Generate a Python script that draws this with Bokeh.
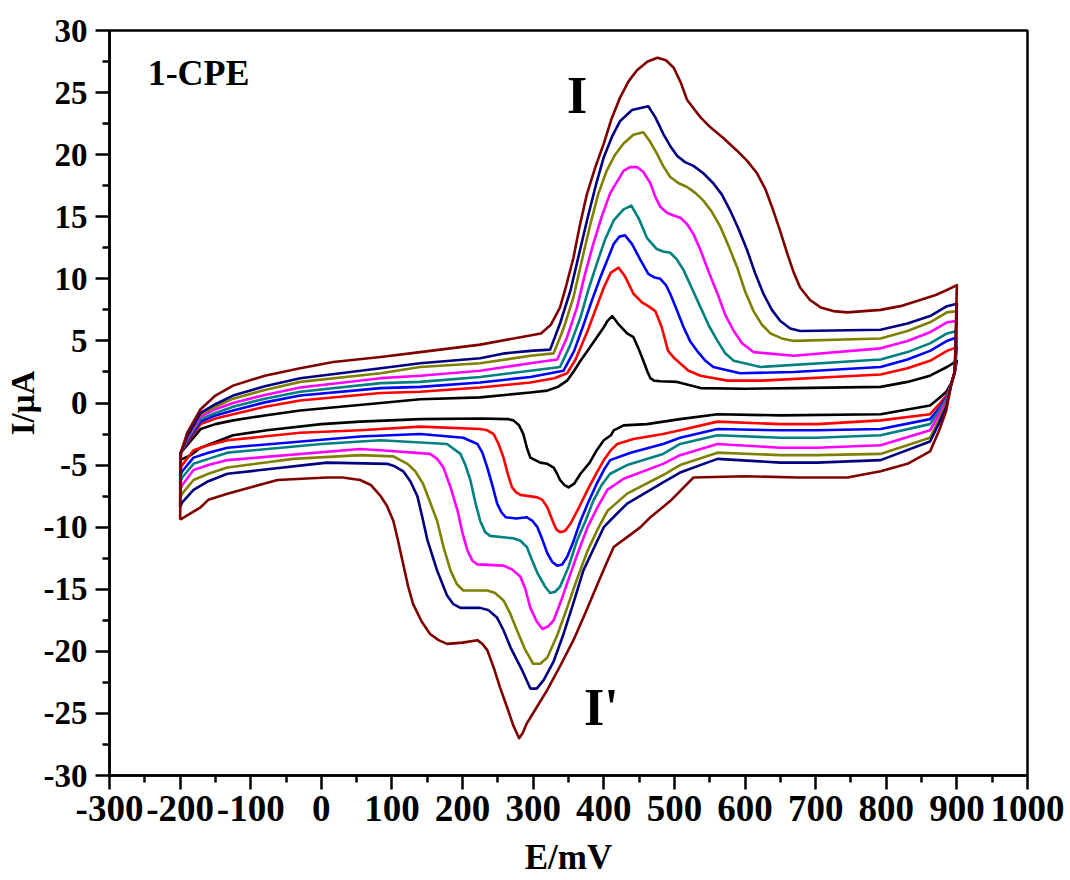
from bokeh.plotting import figure
from bokeh.models import Range1d, FixedTicker, Label
from bokeh.embed import file_html
from bokeh.resources import INLINE

# ---- data: E in mV, I in uA ----
# forward (anodic) branch from -200 to 900 mV, then reverse (cathodic) branch back to -200 mV
black_fwd_E = [-200, -199, -190, -171, -150, -125, -80, -30, 84, 140, 225, 296, 320, 335, 348, 358, 367, 377, 400, 405, 412, 420, 433, 442, 449, 456, 462, 466, 471, 480, 504, 537, 600, 669, 792, 830, 862, 886, 900]
black_fwd_I = [-4.6, -4.0, -3.4, -2.1, -1.7, -1.4, -1.0, -0.6, 0.0, 0.3, 0.45, 0.85, 1.0, 1.3, 1.8, 2.6, 3.4, 4.2, 6.1, 6.6, 7.0, 6.4, 5.6, 5.3, 4.4, 3.4, 2.5, 2.0, 1.8, 1.75, 1.7, 1.2, 1.15, 1.2, 1.3, 1.7, 2.2, 2.9, 3.4]
black_rev_E = [897, 892, 885, 875, 862, 792, 650, 561, 508, 461, 428, 414, 410, 400, 395, 390, 380, 367, 358, 350, 344, 338, 333, 329, 320, 310, 296, 291, 286, 280, 272, 265, 225, 140, 55, 0, -77, -125, -171, -185, -200]
black_rev_I = [2.5, 1.6, 0.9, 0.4, -0.2, -0.9, -1.0, -0.9, -1.3, -1.7, -1.8, -2.2, -2.6, -3.0, -3.4, -3.8, -4.8, -5.7, -6.5, -6.8, -6.6, -6.2, -5.6, -5.2, -4.9, -4.8, -4.4, -3.6, -2.5, -1.8, -1.4, -1.3, -1.25, -1.3, -1.5, -1.7, -2.2, -2.6, -3.6, -4.2, -4.6]

red_fwd_E = [-200, -199, -190, -171, -150, -125, -80, -30, 84, 140, 225, 296, 330, 348, 360, 377, 400, 410, 421, 430, 442, 454, 463, 473, 482, 491, 500, 508, 520, 537, 575, 622, 792, 830, 862, 886, 900]
red_fwd_I = [-5.4, -4.0, -3.2, -1.7, -1.25, -0.9, -0.3, 0.2, 0.8, 0.9, 1.25, 1.65, 2.0, 2.4, 3.5, 5.8, 9.3, 10.5, 10.9, 10.2, 8.8, 8.1, 7.8, 7.4, 6.1, 4.2, 3.6, 3.2, 2.6, 2.2, 1.8, 1.8, 2.3, 2.8, 3.4, 4.2, 4.5]
red_rev_E = [897, 892, 885, 875, 862, 792, 702, 650, 561, 508, 484, 442, 419, 410, 400, 390, 377, 365, 353, 345, 338, 333, 329, 320, 313, 306, 294, 282, 276, 270, 264, 258, 251, 244, 235, 225, 140, 55, -30, -133, -160, -181, -197, -200]
red_rev_I = [2.5, 1.5, 0.6, -0.1, -0.9, -1.4, -1.7, -1.7, -1.5, -2.2, -2.5, -2.9, -3.3, -3.8, -4.6, -5.6, -7.0, -8.4, -9.7, -10.3, -10.4, -10.2, -9.7, -8.4, -7.8, -7.6, -7.5, -7.4, -7.2, -6.8, -5.7, -4.4, -3.3, -2.5, -2.2, -2.1, -1.9, -2.2, -2.4, -3.0, -3.4, -3.8, -5.0, -5.4]

blue_fwd_E = [-200, -199, -190, -171, -150, -125, -80, -30, 84, 140, 225, 296, 343, 358, 372, 384, 395, 414, 422, 430, 440, 452, 463, 472, 480, 488, 494, 504, 513, 522, 532, 544, 555, 593, 669, 792, 830, 862, 886, 900]
blue_fwd_I = [-5.9, -4.0, -3.1, -1.5, -1.0, -0.6, 0.05, 0.6, 1.2, 1.3, 1.65, 2.1, 2.6, 4.2, 6.4, 8.4, 10.1, 12.8, 13.4, 13.5, 12.8, 11.5, 10.4, 10.1, 10.0, 9.5, 8.8, 7.4, 6.1, 5.0, 4.2, 3.4, 2.9, 2.4, 2.5, 2.9, 3.5, 4.2, 5.0, 5.3]
blue_rev_E = [897, 892, 885, 875, 862, 792, 702, 650, 561, 508, 484, 438, 409, 400, 390, 378, 367, 356, 348, 341, 334, 327, 320, 313, 306, 299, 291, 276, 261, 255, 249, 242, 235, 228, 221, 201, 140, 55, -133, -160, -181, -197, -200]
blue_rev_I = [2.5, 1.5, 0.4, -0.4, -1.3, -2.1, -2.2, -2.2, -2.1, -2.8, -3.3, -4.0, -4.6, -5.4, -6.5, -8.0, -9.5, -11.3, -12.4, -13.0, -13.1, -12.8, -12.1, -11.0, -10.0, -9.5, -9.2, -9.3, -9.2, -8.8, -8.1, -6.6, -5.2, -4.0, -3.3, -2.8, -2.5, -2.7, -3.6, -4.0, -4.4, -5.5, -5.9]

teal_fwd_E = [-200, -199, -190, -171, -150, -125, -80, -30, 84, 140, 225, 296, 338, 352, 367, 378, 390, 402, 414, 428, 439, 450, 461, 475, 484, 494, 503, 513, 525, 537, 549, 561, 572, 584, 622, 792, 830, 862, 886, 900]
teal_fwd_I = [-6.4, -4.0, -3.0, -1.3, -0.8, -0.3, 0.35, 0.9, 1.6, 1.7, 2.1, 2.6, 2.9, 4.6, 6.9, 9.1, 11.2, 13.2, 14.7, 15.6, 15.9, 14.8, 13.3, 12.4, 12.2, 12.1, 11.6, 10.7, 9.2, 7.7, 6.2, 5.0, 4.0, 3.4, 2.9, 3.5, 4.1, 4.8, 5.6, 5.8]
teal_rev_E = [897, 892, 885, 875, 862, 792, 702, 650, 561, 508, 484, 433, 409, 397, 385, 374, 362, 350, 338, 331, 324, 317, 306, 298, 291, 282, 272, 239, 232, 225, 218, 211, 204, 197, 178, 84, 0, -133, -160, -181, -197, -200]
teal_rev_I = [2.5, 1.5, 0.3, -0.6, -1.7, -2.6, -2.8, -2.8, -2.6, -3.3, -4.1, -5.0, -5.7, -6.6, -7.9, -9.5, -11.1, -13.2, -14.8, -15.2, -15.3, -14.8, -13.7, -12.6, -11.6, -11.1, -10.9, -10.7, -10.4, -9.5, -8.0, -6.2, -5.0, -4.1, -3.3, -3.0, -3.3, -4.0, -4.5, -4.9, -6.0, -6.4]

magenta_fwd_E = [-200, -199, -190, -171, -150, -125, -80, -30, 84, 140, 225, 296, 334, 348, 362, 373, 385, 397, 409, 428, 437, 447, 456, 466, 473, 480, 490, 499, 509, 518, 527, 537, 549, 561, 572, 584, 596, 612, 669, 792, 830, 862, 886, 900]
magenta_fwd_I = [-7.0, -4.0, -2.9, -1.1, -0.5, 0.0, 0.65, 1.25, 2.0, 2.2, 2.6, 3.2, 3.5, 5.3, 7.7, 10.3, 12.8, 15.0, 16.9, 18.7, 19.0, 19.0, 18.6, 17.7, 16.6, 15.8, 15.3, 15.1, 14.9, 14.4, 13.6, 12.3, 10.5, 8.8, 7.1, 5.8, 4.8, 4.1, 3.8, 4.4, 5.0, 5.7, 6.5, 6.6]
magenta_rev_E = [897, 892, 885, 875, 862, 792, 702, 650, 561, 508, 484, 428, 405, 391, 377, 365, 353, 341, 329, 321, 313, 305, 296, 289, 282, 270, 258, 221, 214, 207, 200, 193, 183, 173, 164, 154, 84, 55, -133, -160, -181, -197, -200]
magenta_rev_I = [2.5, 1.5, 0.1, -0.9, -2.2, -3.4, -3.6, -3.6, -3.3, -4.2, -4.9, -6.1, -7.0, -8.4, -10.0, -11.8, -13.7, -15.7, -17.5, -18.0, -18.2, -17.6, -16.5, -15.0, -14.0, -13.4, -13.1, -13.0, -12.7, -11.9, -10.5, -8.7, -6.8, -5.2, -4.5, -4.1, -3.8, -3.7, -4.6, -5.0, -5.4, -6.6, -7.0]

olive_fwd_E = [-200, -199, -190, -171, -150, -125, -80, -30, 84, 140, 225, 296, 329, 343, 357, 369, 381, 392, 404, 416, 428, 442, 456, 465, 475, 484, 494, 506, 518, 530, 541, 553, 565, 577, 589, 600, 612, 624, 636, 652, 669, 792, 830, 862, 886, 900]
olive_fwd_I = [-7.7, -4.0, -2.8, -0.9, -0.3, 0.35, 1.05, 1.7, 2.4, 2.9, 3.2, 3.8, 4.0, 6.0, 8.5, 11.5, 14.4, 16.8, 18.7, 20.0, 20.9, 21.6, 21.8, 21.1, 20.1, 19.1, 18.2, 17.7, 17.4, 16.9, 16.3, 15.4, 14.2, 12.6, 10.9, 9.0, 7.4, 6.3, 5.6, 5.2, 5.0, 5.2, 5.8, 6.5, 7.3, 7.4]
olive_rev_E = [897, 892, 885, 875, 862, 792, 702, 650, 561, 508, 484, 433, 405, 391, 377, 362, 348, 334, 320, 310, 300, 288, 277, 267, 258, 246, 235, 218, 201, 192, 183, 173, 164, 154, 144, 133, 122, 102, 55, -40, -133, -160, -181, -197, -200]
olive_rev_I = [2.5, 1.5, -0.1, -1.3, -2.8, -4.1, -4.2, -4.2, -4.0, -5.0, -5.8, -7.3, -8.7, -10.2, -11.9, -14.2, -16.5, -18.7, -20.5, -21.0, -21.0, -19.8, -18.3, -16.9, -15.9, -15.3, -15.1, -15.1, -15.1, -14.6, -13.5, -11.6, -9.5, -8.0, -6.5, -5.5, -4.9, -4.3, -4.2, -4.5, -5.2, -5.7, -6.2, -7.3, -7.7]

navy_fwd_E = [-200, -199, -190, -171, -150, -125, -80, -30, 84, 140, 225, 260, 296, 324, 338, 353, 365, 377, 389, 400, 412, 423, 440, 463, 473, 484, 494, 504, 515, 527, 541, 555, 567, 579, 591, 603, 614, 626, 638, 650, 664, 678, 792, 830, 862, 886, 900]
navy_fwd_I = [-8.4, -4.0, -2.7, -0.8, -0.1, 0.6, 1.35, 2.0, 2.8, 3.2, 3.6, 4.0, 4.2, 4.3, 6.4, 9.1, 12.0, 14.9, 17.6, 19.8, 21.5, 22.7, 23.6, 23.9, 23.0, 21.7, 20.7, 19.9, 19.4, 19.1, 18.5, 17.7, 16.8, 15.5, 14.0, 12.3, 10.5, 8.8, 7.5, 6.6, 6.0, 5.8, 5.9, 6.4, 7.0, 7.8, 8.0]
navy_rev_E = [897, 892, 885, 875, 862, 792, 702, 650, 561, 508, 484, 433, 417, 400, 385, 371, 357, 343, 329, 315, 305, 296, 285, 268, 258, 249, 237, 225, 211, 197, 187, 178, 164, 150, 143, 136, 126, 116, 104, 93, 8, -133, -160, -181, -197, -200]
navy_rev_I = [2.5, 1.5, -0.3, -1.6, -3.1, -4.6, -4.8, -4.8, -4.5, -5.6, -6.4, -8.1, -9.0, -10.0, -11.8, -13.5, -16.1, -18.6, -20.8, -22.3, -23.0, -23.0, -21.6, -19.7, -18.3, -17.3, -16.7, -16.5, -16.5, -16.5, -16.2, -15.5, -13.5, -11.0, -9.2, -7.5, -6.3, -5.5, -5.1, -4.9, -4.8, -5.7, -6.3, -7.0, -8.0, -8.4]

maroon_fwd_E = [-200, -199, -190, -171, -150, -125, -80, -30, 17, 84, 140, 225, 282, 311, 325, 338, 347, 357, 366, 376, 388, 400, 411, 423, 435, 447, 462, 476, 488, 499, 509, 518, 537, 551, 570, 589, 603, 617, 629, 640, 650, 660, 669, 678, 692, 707, 725, 745, 792, 820, 848, 870, 886, 900]
maroon_fwd_I = [-9.4, -4.0, -2.4, -0.5, 0.6, 1.4, 2.2, 2.8, 3.3, 3.7, 4.1, 4.7, 5.3, 5.6, 6.3, 7.7, 9.5, 11.7, 14.3, 16.8, 19.0, 20.9, 22.9, 24.6, 25.9, 26.8, 27.5, 27.8, 27.6, 27.0, 25.8, 24.4, 23.0, 22.2, 21.3, 20.3, 19.5, 18.5, 17.2, 15.5, 13.8, 12.0, 10.5, 9.3, 8.3, 7.7, 7.4, 7.3, 7.5, 7.8, 8.3, 8.7, 9.1, 9.5]
maroon_rev_E = [897, 892, 885, 875, 862, 830, 792, 745, 674, 600, 527, 494, 479, 466, 452, 433, 414, 403, 391, 374, 357, 338, 320, 305, 291, 285, 280, 272, 263, 253, 244, 235, 228, 221, 200, 178, 166, 154, 142, 130, 123, 116, 109, 102, 93, 84, 70, 55, 30, 8, -62, -133, -160, -171, -200]
maroon_rev_I = [2.5, 1.5, -0.6, -2.2, -3.9, -4.9, -5.5, -6.0, -6.0, -5.9, -6.0, -7.9, -8.6, -9.2, -10.0, -10.8, -11.6, -13.0, -14.6, -16.9, -19.1, -21.2, -23.1, -24.5, -25.8, -26.6, -27.0, -26.0, -24.5, -22.9, -21.3, -19.9, -19.4, -19.1, -19.3, -19.4, -19.1, -18.6, -17.6, -16.2, -14.8, -13.0, -11.2, -9.5, -8.3, -7.5, -6.6, -6.2, -6.0, -6.0, -6.2, -7.3, -7.8, -8.4, -9.4]

series = [
    (black_fwd_E + black_rev_E, black_fwd_I + black_rev_I, "#000000"),
    (red_fwd_E + red_rev_E, red_fwd_I + red_rev_I, "#ff0000"),
    (blue_fwd_E + blue_rev_E, blue_fwd_I + blue_rev_I, "#0000ff"),
    (teal_fwd_E + teal_rev_E, teal_fwd_I + teal_rev_I, "#008080"),
    (magenta_fwd_E + magenta_rev_E, magenta_fwd_I + magenta_rev_I, "#ff00ff"),
    (olive_fwd_E + olive_rev_E, olive_fwd_I + olive_rev_I, "#808000"),
    (navy_fwd_E + navy_rev_E, navy_fwd_I + navy_rev_I, "#000080"),
    (maroon_fwd_E + maroon_rev_E, maroon_fwd_I + maroon_rev_I, "#800000"),
]

x_ticks = list(range(-300, 1001, 100))
x_minor = list(range(-250, 1000, 100))
y_ticks = list(range(-30, 31, 5))
y_minor = [v + 2.5 for v in range(-30, 30, 5)]

FONT = "Liberation Serif"

p = figure(width=1070, height=880,
           x_range=Range1d(-300, 1000), y_range=Range1d(-30, 30),
           output_backend="svg", toolbar_location=None,
           min_border_left=109, min_border_right=43,
           min_border_top=30, min_border_bottom=105)

p.grid.visible = False
p.background_fill_color = "white"
p.border_fill_color = "white"
p.outline_line_color = "black"
p.outline_line_width = 2.5
p.outline_line_alpha = 1.0

for E, I, c in series:
    p.line(E, I, line_color=c, line_width=2.6, line_join="round")

p.xaxis.ticker = FixedTicker(ticks=x_ticks, minor_ticks=x_minor)
p.yaxis.ticker = FixedTicker(ticks=y_ticks, minor_ticks=y_minor)
p.xaxis.major_label_overrides = {v: str(v) for v in x_ticks}
p.yaxis.major_label_overrides = {v: str(v) for v in y_ticks}

for ax in (p.xaxis[0], p.yaxis[0]):
    ax.axis_line_width = 2.5
    ax.axis_line_color = "black"
    ax.major_tick_line_width = 2.5
    ax.minor_tick_line_width = 2.5
    ax.major_tick_out = 14
    ax.major_tick_in = 0
    ax.minor_tick_out = 7
    ax.minor_tick_in = 0
    ax.major_label_text_font = FONT
    ax.major_label_text_font_style = "bold"
    ax.major_label_text_color = "black"
    ax.axis_label_text_font = FONT
    ax.axis_label_text_font_style = "bold"
    ax.axis_label_text_color = "black"

p.xaxis.major_label_text_font_size = "37px"
p.yaxis.major_label_text_font_size = "33px"
p.xaxis.major_label_standoff = 6
p.yaxis.major_label_standoff = 8

p.xaxis.axis_label = "E/mV"
p.xaxis.axis_label_text_font_size = "35px"
p.xaxis.axis_label_standoff = 14
p.yaxis.axis_label = "I/\u03bcA"
p.yaxis.axis_label_text_font_size = "33px"
p.yaxis.axis_label_standoff = 0

def add_text(x, y, text, size):
    p.add_layout(Label(x=x, y=y, text=text, text_font=FONT, text_font_style="bold",
                       text_font_size=size, text_align="left", text_baseline="middle",
                       text_color="black"))

add_text(-246, 26.55, "1-CPE", "36px")
add_text(348, 24.75, "I", "52px")
add_text(372, -24.5, "I'", "52px")

open("out.html", "w").write(file_html(p, INLINE))
